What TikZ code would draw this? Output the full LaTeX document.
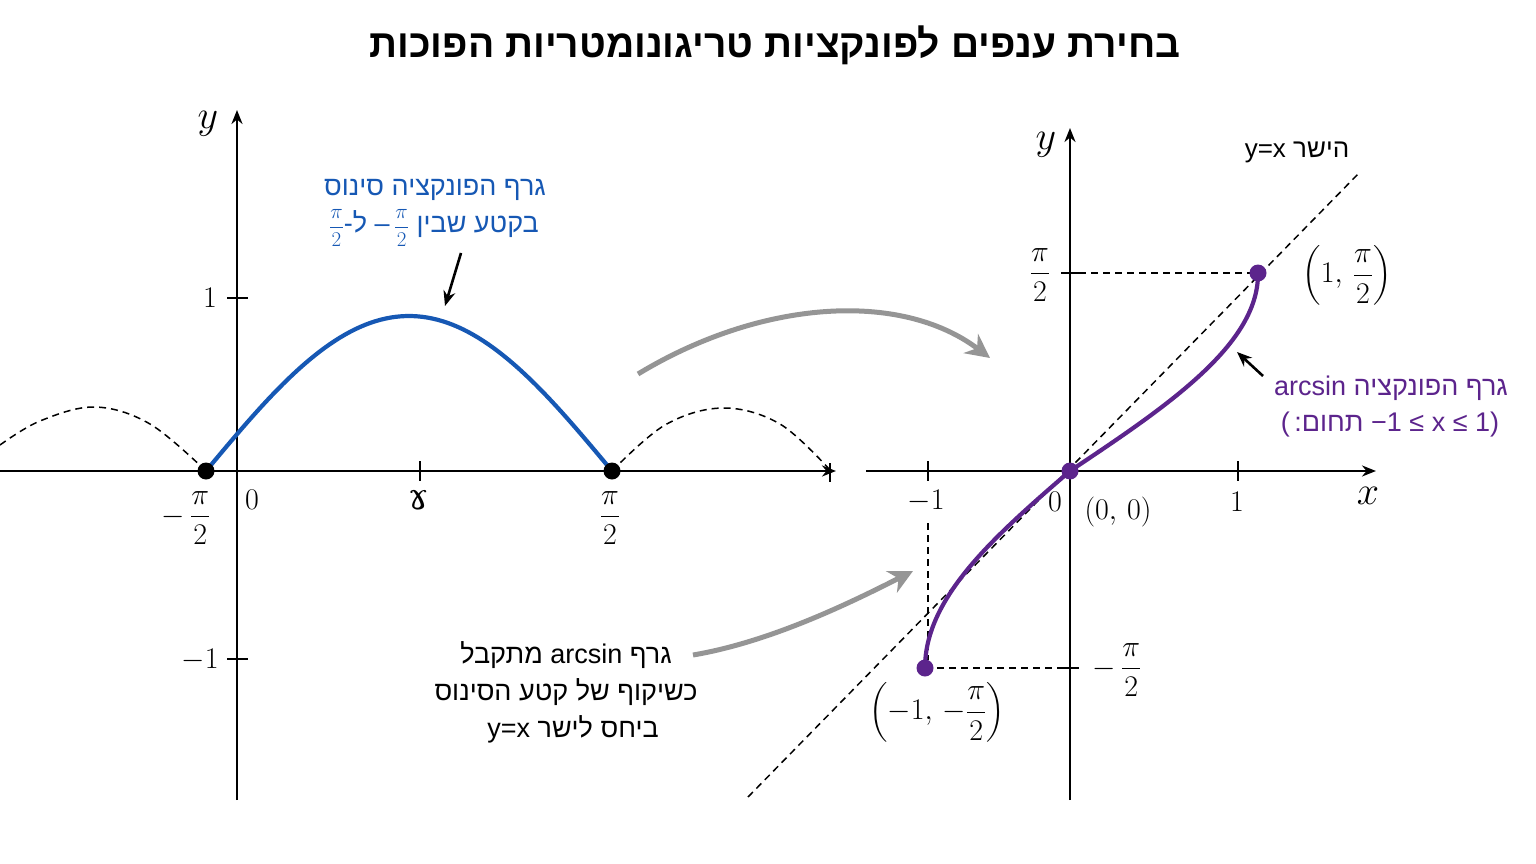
\RequirePackage{fix-cm}
\documentclass[tikz,border=0pt]{standalone}
\usepackage{amsmath}
\usepackage{fontspec}
\usetikzlibrary{arrows.meta}
\newfontfamily\heb[Script=Hebrew]{Liberation Sans}
\newfontfamily\lat{Liberation Sans}
\newfontfamily\dvs{DejaVu Serif}
\TeXXeTstate=1
\definecolor{bluec}{HTML}{1658B4}
\definecolor{purc}{HTML}{5C248C}
\definecolor{grayc}{HTML}{959595}
\newcommand{\smallfrac}{{\fontsize{21}{21}\selectfont$\dfrac{\pi}{2}$}}
\tikzset{
  axisline/.style={line width=2.6pt, -{Stealth[length=14pt,width=11pt]}},
  tickline/.style={line width=2.2pt},
  dashline/.style={line width=1.5pt, dash pattern=on 7pt off 5pt},
  bluecurve/.style={bluec, line width=4.2pt, line cap=round},
  purcurve/.style={purc, line width=4.2pt, line cap=round},
  bdot/.style={circle, fill=black, inner sep=0pt, minimum size=17pt},
  pdot/.style={circle, fill=purc, inner sep=0pt, minimum size=17pt},
  blkarrow/.style={line width=2.6pt, -{Stealth[length=15pt,width=12pt]}},
  grayarrow/.style={grayc, line width=5pt, -{Stealth[length=24pt,width=24pt]}},
  mlabel/.style={inner sep=0pt, font=\fontsize{30}{34}\selectfont},
  hlabel/.style={inner sep=0pt, font=\fontsize{27}{31}\selectfont\heb},
}
\begin{document}
\begin{tikzpicture}[x=1pt,y=-1pt]
\useasboundingbox (0,0) rectangle (1536,864);
% title
\node[inner sep=0pt, font=\fontsize{39}{44}\selectfont\heb\bfseries] (title) at (775,45)
  {\beginR בחירת ענפים לפונקציות טריגונומטריות הפוכות\endR};

% ---------- left graph ----------
\coordinate (Lxs) at (0,471);
\coordinate (Lxe) at (836,471);
\coordinate (Lys) at (237,800);
\coordinate (Lye) at (237,110);
\draw[axisline] (Lxs) -- (Lxe);
\draw[axisline] (Lys) -- (Lye);
\coordinate (Lend1) at (830,463);
\coordinate (Lend2) at (830,482);
\draw[tickline] (Lend1) -- (Lend2);
% ticks
\coordinate (t1a) at (227,298); \coordinate (t1b) at (248,298);
\draw[tickline] (t1a) -- (t1b);
\coordinate (t2a) at (227,659); \coordinate (t2b) at (248,659);
\draw[tickline] (t2a) -- (t2b);
\coordinate (t3a) at (420,461); \coordinate (t3b) at (420,481);
\draw[tickline] (t3a) -- (t3b);
% dashed periodic parts
\draw[dashline] plot[smooth, tension=0.6] coordinates {(0,445) (40,421) (95,407) (150,424) (206,471)};
\draw[dashline] plot[smooth, tension=0.6] coordinates {(612,471) (665,425) (723,408) (780,424) (830,470)};
% blue arc
\draw[bluecurve] plot[domain=0:180, samples=80, variable=\t] ({206+\t/180*406}, {471-155*sin(\t)});
\node[bdot] (Lpm) at (206,471) {};
\node[bdot] (Lpp) at (612,471) {};
% labels
\node[mlabel, font=\fontsize{40}{44}\selectfont] (Lylab) at (208,124) {$y$};
\node[mlabel] (L1) at (210,298) {$1$};
\node[mlabel] (Lm1) at (200,660) {$-1$};
\node[mlabel] (L0) at (252,500) {$0$};
\node[mlabel] (Lmpi) at (186,518) {$-\,\dfrac{\pi}{2}$};
\node[mlabel] (Lppi) at (610,518) {$\dfrac{\pi}{2}$};
\node[inner sep=0pt, font=\fontsize{36}{40}\selectfont\dvs] (Lmid) at (419,500) {ɤ};
% blue label
\node[hlabel, bluec] (blab1) at (435,190) {\beginR גרף הפונקציה סינוס\endR};
\node[hlabel, bluec] (blab2) at (434,228) {\beginR בקטע שבין \beginL{\lat –\,}\smallfrac\endL{}\ ל-\beginL\smallfrac\endL\endR};
\coordinate (ba1) at (461,253);
\coordinate (ba2) at (445,306);
\draw[blkarrow] (ba1) -- (ba2);

% ---------- gray arrows ----------
\coordinate (ga1s) at (638,374);
\coordinate (ga1e) at (990,358);
\draw[grayarrow] (ga1s) .. controls (760,300) and (900,290) .. (ga1e);
\coordinate (ga2s) at (693,655);
\coordinate (ga2e) at (913,571);
\draw[grayarrow] (ga2s) .. controls (770,642) and (850,603) .. (ga2e);

% ---------- right graph ----------
\coordinate (Rxs) at (866,471);
\coordinate (Rxe) at (1376,471);
\coordinate (Rys) at (1070,800);
\coordinate (Rye) at (1070,128);
\draw[axisline] (Rxs) -- (Rxe);
\draw[axisline] (Rys) -- (Rye);
% ticks
\coordinate (r1a) at (928,461); \coordinate (r1b) at (928,481);
\draw[tickline] (r1a) -- (r1b);
\coordinate (r2a) at (1238,461); \coordinate (r2b) at (1238,481);
\draw[tickline] (r2a) -- (r2b);
\coordinate (r3a) at (1061,273); \coordinate (r3b) at (1079,273);
\draw[tickline] (r3a) -- (r3b);
\coordinate (r4a) at (1061,668); \coordinate (r4b) at (1079,668);
\draw[tickline] (r4a) -- (r4b);
% y=x line
\coordinate (dl1) at (748,797);
\coordinate (dl2) at (1360,172);
\draw[dashline] (dl1) -- (dl2);
% points
\coordinate (Ppc) at (1258,273);
\coordinate (P0c) at (1070,471);
\coordinate (Pmc) at (925,668);
% dashed guides
\draw[dashline] (r3b) -- (Ppc);
\draw[dashline] (Pmc) -- (r4a);
\coordinate (vg1) at (928,523);
\coordinate (vg2) at (928,660);
\draw[dashline] (vg1) -- (vg2);
% arcsin curve
\draw[purcurve] plot[domain=-90:90, samples=120, variable=\t] ({1070+(\t<0?145:188)*sin(\t)}, {471-\t/90*197});
\node[pdot] (Pp) at (Ppc) {};
\node[pdot] (P0) at (P0c) {};
\node[pdot] (Pm) at (Pmc) {};
% labels
\node[mlabel, font=\fontsize{40}{44}\selectfont] (Rylab) at (1046,145) {$y$};
\node[mlabel, font=\fontsize{40}{44}\selectfont] (Rxlab) at (1368,496) {$x$};
\node[mlabel] (Rm1) at (926,501) {$-1$};
\node[mlabel] (R0) at (1055,502) {$0$};
\node[mlabel] (R1) at (1237,502) {$1$};
\node[mlabel] (Rpi) at (1040,275) {$\dfrac{\pi}{2}$};
\node[mlabel] (Rmpi) at (1117,670) {$-\,\dfrac{\pi}{2}$};
\node[mlabel] (Rp1) at (1347,275) {$\left(1,\,\dfrac{\pi}{2}\right)$};
\node[mlabel] (Rp0) at (1118,512) {$(0,\,0)$};
\node[mlabel] (Rpm) at (937,712) {$\left(-1,\,-\dfrac{\pi}{2}\right)$};
\node[inner sep=0pt, font=\fontsize{26}{30}\selectfont\heb] (yxlab) at (1297,152) {\beginR הישר \beginL{\lat y=x}\endL\endR};
% purple label
\node[hlabel, purc] (plab1) at (1391,388) {\beginR גרף הפונקציה \beginL{\lat arcsin}\endL\endR};
\node[hlabel, purc] (plab2) at (1390,425) {{\lat(\,}\beginR תחום:\endR{\lat\ −1 ≤ x ≤ 1)}};
\coordinate (pa1) at (1263,376);
\coordinate (pa2) at (1237,352);
\draw[blkarrow] (pa1) -- (pa2);
% bottom label
\node[hlabel] (q1) at (566,655) {\beginR גרף \beginL{\lat arcsin}\endL{} מתקבל\endR};
\node[hlabel] (q2) at (566,692) {\beginR כשיקוף של קטע הסינוס\endR};
\node[hlabel] (q3) at (573,729) {\beginR ביחס לישר \beginL{\lat y=x}\endL\endR};
\end{tikzpicture}
\end{document}
